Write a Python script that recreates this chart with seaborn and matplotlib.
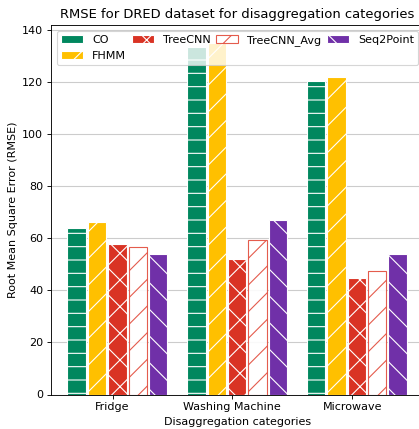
import matplotlib
matplotlib.use("Agg")
import matplotlib.pyplot as plt
import seaborn as sns
import pandas as pd

categories = ["Fridge", "Washing Machine", "Microwave"]
models = ["CO", "FHMM", "TreeCNN", "TreeCNN_Avg", "Seq2Point"]
co = [64.0, 133.3, 120.5]
fhmm = [66.2, 135.0, 122.0]
treecnn = [57.7, 52.0, 44.9]
treecnn_avg = [56.7, 59.2, 47.4]
seq2point = [54.1, 66.9, 54.1]

colors = ["#00875E", "#FFC000", "#D93324", "#FFFFFF", "#7030A8"]
hatches = ["-", "/", "x", "/", "\\"]

rows = []
for model, vals in zip(models, [co, fhmm, treecnn, treecnn_avg, seq2point]):
    for cat, v in zip(categories, vals):
        rows.append({"category": cat, "model": model, "rmse": v})
df = pd.DataFrame(rows)

plt.rcParams["hatch.linewidth"] = 1.0
fig = plt.figure(figsize=(419 / 80, 429 / 80), dpi=80)
ax = fig.add_axes([51 / 419, 34.5 / 429, 373 / 419, 369.5 / 429])
ax.set_axisbelow(True)
ax.yaxis.grid(True, color="#cccccc", linewidth=1)

sns.barplot(data=df, x="category", y="rmse", hue="model", palette=colors,
            saturation=1, width=0.85, gap=0.1, edgecolor="white", linewidth=1,
            legend=False, ax=ax)

# bar groups sit slightly to the right of their tick
group_offset = 0.04
for cont, h, model in zip(ax.containers, hatches, models):
    for p in cont.patches:
        p.set_x(p.get_x() + group_offset)
        p.set_hatch(h)
        if model == "TreeCNN_Avg":
            p.set_facecolor("white")
            p.set_edgecolor("#E24A3A")
            p.set_alpha(0.9)

ax.set_xlim(-0.514, 2.6)
ax.set_ylim(0, 141.8)
ax.set_yticks(range(0, 141, 20))
ax.set_title("RMSE for DRED dataset for disaggregation categories", fontsize=11.8)
ax.set_xlabel("Disaggregation categories", fontsize=10)
ax.set_ylabel("Root Mean Square Error (RMSE)", fontsize=10)
ax.tick_params(labelsize=10)
ax.legend(handles=list(ax.containers), labels=models, ncol=4,
          loc="upper center", fontsize=10, columnspacing=0.5,
          handletextpad=0.8)

fig.savefig("out.png", dpi=80)
